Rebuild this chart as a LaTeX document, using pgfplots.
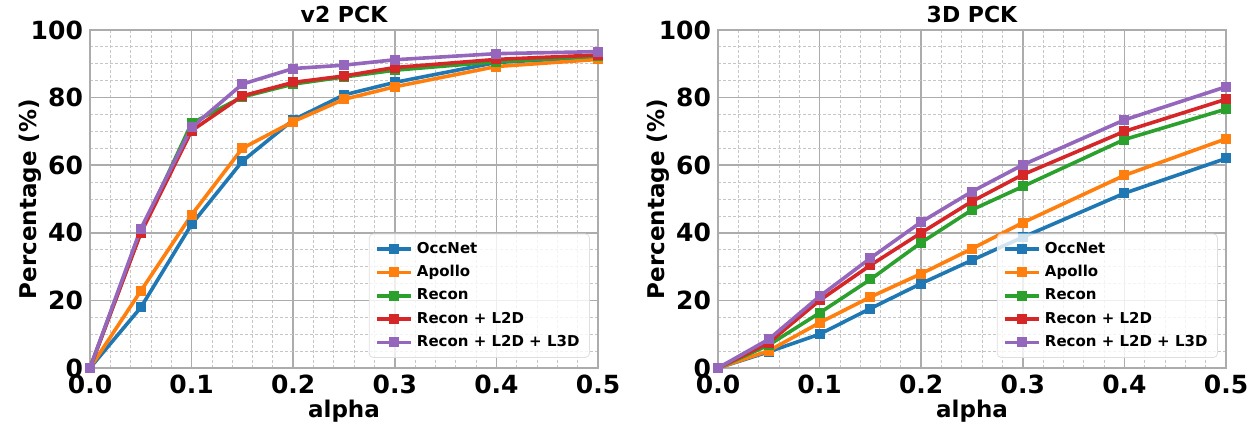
\documentclass[border=0pt]{standalone}
\usepackage{fontspec}
\setmainfont{DejaVu Sans}
\usepackage{pgfplots}
\pgfplotsset{compat=1.18}

\definecolor{cblue}{HTML}{1F77B4}
\definecolor{corange}{HTML}{FF7F0E}
\definecolor{cgreen}{HTML}{2CA02C}
\definecolor{cred}{HTML}{D62728}
\definecolor{cpurple}{HTML}{9467BD}

\pgfplotsset{
  pck/.style={
    width=254pt, height=169pt, scale only axis,
    xmin=0, xmax=0.5, ymin=0, ymax=100,
    xtick={0,0.1,0.2,0.3,0.4,0.5}, ytick={0,20,40,60,80,100},
    minor x tick num=4, minor y tick num=3,
    grid=both,
    major grid style={gray!65, line width=0.8pt},
    minor grid style={gray!45, dash pattern=on 1.5pt off 1pt, line width=0.4pt},
    axis line style={gray!65, line width=0.8pt},
    major tick length=0pt, minor tick length=0pt,
    /pgf/number format/assume math mode=true,
    tick label style={font=\fontsize{12.5}{14}\selectfont\bfseries},
    xticklabel style={/pgf/number format/.cd, fixed, fixed zerofill, precision=1},
    label style={font=\fontsize{11.5}{13}\selectfont\bfseries},
    xlabel shift=-4pt, ylabel shift=-12pt,
    title style={font=\fontsize{11}{13}\selectfont\bfseries, yshift=-6pt},
    xlabel={alpha}, ylabel={Percentage (\%)},
    every axis plot/.append style={line width=1.8pt, mark=square*, mark size=1.6pt},
    legend style={at={(0.984,0.03)}, anchor=south east,
      font=\fontsize{7.5}{9}\selectfont\bfseries,
      draw=gray!25, fill=white, fill opacity=0.8, text opacity=1,
      rounded corners=2pt, row sep=0.6pt},
    legend cell align=left,
  },
}

\begin{document}
\begin{tikzpicture}
\useasboundingbox (-45pt,-27.5pt) rectangle (581pt,184pt);

\begin{axis}[pck, title={v2 PCK}]
\addplot[color=cblue] coordinates {
(0,0)(0.05,17.9)(0.1,42.5)(0.15,61.2)(0.2,73.4)(0.25,80.8)(0.3,84.5)(0.4,90.4)(0.5,92.0)};
\addlegendentry{OccNet}
\addplot[color=corange] coordinates {
(0,0)(0.05,22.8)(0.1,45.3)(0.15,65.0)(0.2,72.9)(0.25,79.5)(0.3,83.2)(0.4,89.2)(0.5,91.3)};
\addlegendentry{Apollo}
\addplot[color=cgreen] coordinates {
(0,0)(0.05,40.2)(0.1,72.4)(0.15,80.2)(0.2,84.0)(0.25,86.1)(0.3,88.1)(0.4,90.6)(0.5,92.3)};
\addlegendentry{Recon}
\addplot[color=cred] coordinates {
(0,0)(0.05,39.9)(0.1,70.2)(0.15,80.5)(0.2,84.5)(0.25,86.4)(0.3,88.9)(0.4,91.3)(0.5,92.6)};
\addlegendentry{Recon + L2D}
\addplot[color=cpurple] coordinates {
(0,0)(0.05,41.2)(0.1,71.2)(0.15,84.0)(0.2,88.6)(0.25,89.6)(0.3,91.2)(0.4,93.0)(0.5,93.6)};
\addlegendentry{Recon + L2D + L3D}
\end{axis}

\begin{axis}[pck, at={(314pt,0pt)}, title={3D PCK}]
\addplot[color=cblue] coordinates {
(0,0)(0.05,4.8)(0.1,10.0)(0.15,17.6)(0.2,25.0)(0.25,31.9)(0.3,38.7)(0.4,51.7)(0.5,62.0)};
\addlegendentry{OccNet}
\addplot[color=corange] coordinates {
(0,0)(0.05,5.1)(0.1,13.4)(0.15,21.0)(0.2,27.9)(0.25,35.3)(0.3,43.0)(0.4,57.0)(0.5,67.8)};
\addlegendentry{Apollo}
\addplot[color=cgreen] coordinates {
(0,0)(0.05,6.8)(0.1,16.3)(0.15,26.2)(0.2,37.1)(0.25,46.8)(0.3,53.7)(0.4,67.6)(0.5,76.6)};
\addlegendentry{Recon}
\addplot[color=cred] coordinates {
(0,0)(0.05,7.5)(0.1,20.0)(0.15,30.4)(0.2,40.0)(0.25,49.3)(0.3,57.2)(0.4,70.0)(0.5,79.5)};
\addlegendentry{Recon + L2D}
\addplot[color=cpurple] coordinates {
(0,0)(0.05,8.5)(0.1,21.2)(0.15,32.5)(0.2,43.2)(0.25,52.2)(0.3,60.1)(0.4,73.4)(0.5,83.2)};
\addlegendentry{Recon + L2D + L3D}
\end{axis}
\end{tikzpicture}
\end{document}
